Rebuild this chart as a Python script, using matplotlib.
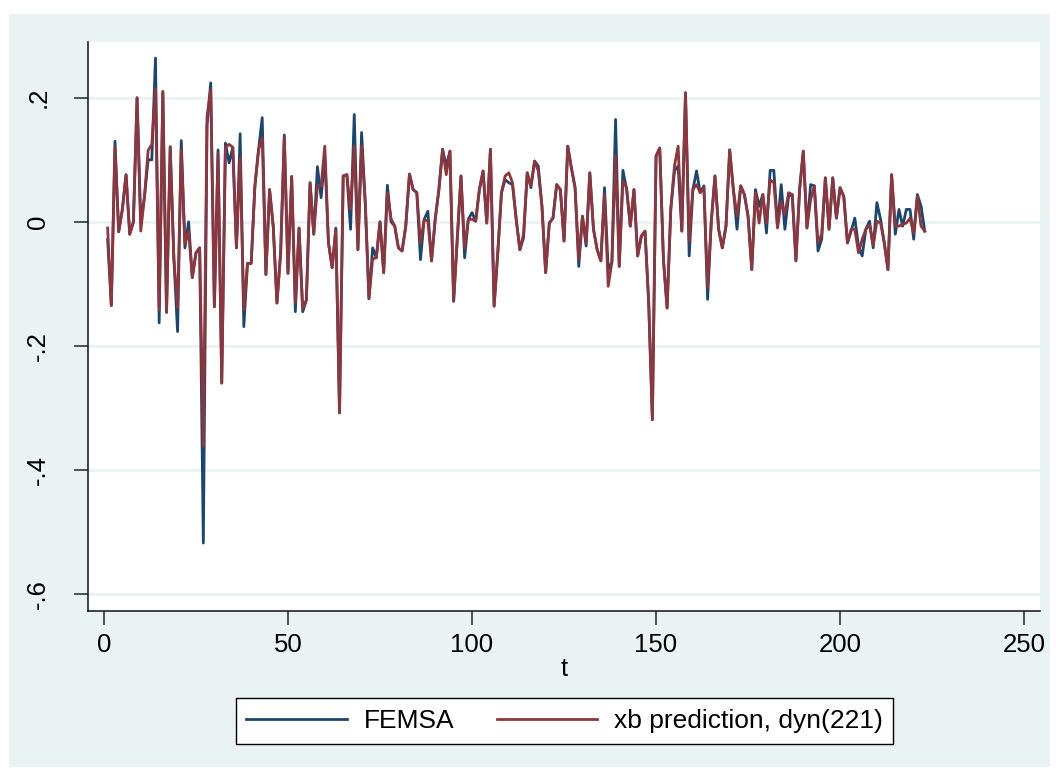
import matplotlib
matplotlib.use("Agg")
import matplotlib.pyplot as plt
from matplotlib.patches import Rectangle

plt.rcParams["font.family"] = ["Liberation Sans", "DejaVu Sans"]

# FEMSA returns, t = 1..223
femsa = [
    -0.029, -0.135, 0.13, -0.016, 0.02, 0.076, -0.02, 0.0, 0.2, 0.0,
    0.04, 0.1, 0.1, 0.264, -0.163, 0.21, -0.146, 0.121, -0.06, -0.177,
    0.131, -0.042, 0.0, -0.09, -0.05, -0.042, -0.518, 0.155, 0.224, -0.137,
    0.116, -0.26, 0.127, 0.095, 0.12, -0.042, 0.142, -0.169, -0.067, -0.067,
    0.057, 0.116, 0.168, -0.085, 0.052, -0.008, -0.131, -0.05, 0.14, -0.083,
    0.073, -0.145, -0.01, -0.145, -0.126, 0.063, -0.02, 0.089, 0.039, 0.106,
    -0.034, -0.074, -0.01, -0.308, 0.074, 0.076, -0.012, 0.173, -0.045, 0.144,
    0.03, -0.124, -0.042, -0.058, 0.0, -0.082, 0.059, 0.0, -0.007, -0.042,
    -0.047, -0.007, 0.077, 0.052, 0.047, -0.061, 0.004, 0.017, -0.063, 0.004,
    0.052, 0.117, 0.09, 0.114, -0.128, -0.028, 0.074, -0.058, 0.004, 0.015,
    0.001, 0.052, 0.082, -0.002, 0.117, -0.136, -0.05, 0.047, 0.068, 0.063,
    0.06, 0.004, -0.045, -0.026, 0.079, 0.055, 0.098, 0.09, 0.025, -0.082,
    -0.002, 0.006, 0.06, 0.052, -0.031, 0.122, 0.087, 0.055, -0.072, 0.009,
    -0.039, 0.079, -0.012, -0.045, -0.063, 0.055, -0.077, -0.065, 0.165, -0.072,
    0.083, 0.052, -0.007, 0.052, -0.055, -0.023, -0.015, -0.13, -0.319, 0.106,
    0.119, -0.06, -0.139, 0.02, 0.082, 0.09, -0.015, 0.208, -0.055, 0.052,
    0.082, 0.047, 0.058, -0.125, 0.0, 0.074, -0.012, -0.042, -0.007, 0.116,
    0.052, -0.012, 0.058, 0.044, 0.009, -0.077, 0.052, 0.025, 0.044, -0.018,
    0.083, 0.083, -0.007, 0.06, -0.012, 0.041, 0.044, -0.063, 0.052, 0.114,
    -0.01, 0.06, 0.058, -0.047, -0.028, 0.071, -0.012, 0.071, 0.006, 0.055,
    0.041, -0.034, -0.015, 0.006, -0.039, -0.055, -0.012, 0.001, -0.042, 0.031,
    0.004, -0.034, -0.077, 0.076, -0.02, 0.02, -0.007, 0.02, 0.02, -0.028,
    0.044, 0.025, -0.015,
]

# xb prediction, dyn(221)
xb_pred = [
    -0.01, -0.135, 0.12, -0.016, 0.02, 0.076, -0.02, 0.0, 0.2, -0.015,
    0.04, 0.115, 0.125, 0.215, -0.142, 0.21, -0.146, 0.121, -0.06, -0.139,
    0.116, -0.035, -0.015, -0.09, -0.05, -0.042, -0.362, 0.17, 0.213, -0.137,
    0.11, -0.26, 0.12, 0.125, 0.12, -0.042, 0.103, -0.142, -0.067, -0.067,
    0.057, 0.116, 0.136, -0.085, 0.052, -0.008, -0.131, -0.05, 0.136, -0.083,
    0.073, -0.13, -0.01, -0.14, -0.126, 0.063, -0.02, 0.058, 0.058, 0.122,
    -0.034, -0.074, -0.012, -0.308, 0.074, 0.076, 0.02, 0.122, -0.045, 0.122,
    0.03, -0.124, -0.06, -0.058, 0.0, -0.082, 0.047, 0.005, -0.007, -0.042,
    -0.047, -0.007, 0.077, 0.052, 0.047, -0.034, 0.004, 0.001, -0.063, 0.004,
    0.052, 0.117, 0.076, 0.114, -0.128, -0.028, 0.074, -0.042, 0.004, 0.004,
    0.001, 0.052, 0.082, -0.002, 0.117, -0.136, -0.05, 0.047, 0.074, 0.079,
    0.063, 0.004, -0.045, -0.02, 0.079, 0.058, 0.098, 0.082, 0.025, -0.082,
    -0.002, 0.006, 0.06, 0.052, -0.031, 0.122, 0.087, 0.055, -0.061, 0.009,
    -0.034, 0.079, -0.012, -0.045, -0.063, 0.044, -0.104, -0.065, 0.106, -0.072,
    0.066, 0.055, -0.007, 0.052, -0.055, -0.023, -0.015, -0.13, -0.319, 0.106,
    0.119, -0.06, -0.139, 0.02, 0.09, 0.122, -0.015, 0.208, -0.031, 0.052,
    0.06, 0.047, 0.055, -0.106, 0.0, 0.074, -0.012, -0.042, -0.007, 0.116,
    0.052, 0.009, 0.058, 0.044, 0.009, -0.077, 0.047, -0.002, 0.044, -0.002,
    0.068, 0.063, -0.01, 0.033, 0.012, 0.047, 0.044, -0.063, 0.052, 0.114,
    -0.01, 0.036, 0.058, -0.034, -0.02, 0.071, -0.012, 0.071, 0.006, 0.055,
    0.041, -0.034, -0.012, -0.012, -0.05, -0.028, -0.012, -0.005, -0.038, 0.001,
    -0.002, -0.034, -0.077, 0.076, -0.007, -0.007, -0.004, -0.002, 0.006, -0.018,
    0.041, -0.007, -0.015,
]

t = list(range(1, len(femsa) + 1))

xticks = [0, 50, 100, 150, 200, 250]
yticks = [-0.6, -0.4, -0.2, 0.0, 0.2]
ytick_labels = ["-.6", "-.4", "-.2", "0", ".2"]

navy = "#1a476f"
maroon = "#90353b"
bg = "#eaf2f3"

fig = plt.figure(figsize=(10.56, 7.73), dpi=100, facecolor="white")
# stata-like graph region behind everything
fig.patches.append(Rectangle((9 / 1056, 6 / 773), 1041 / 1056, 753 / 773,
                             transform=fig.transFigure, facecolor=bg,
                             edgecolor="none", zorder=-10))

ax = fig.add_axes([0.0830, 0.2100, 0.9018, 0.7357])
ax.set_facecolor("white")

ax.plot(t, femsa, color=navy, lw=2.0, label="FEMSA")
ax.plot(t, xb_pred, color=maroon, lw=2.0, label="xb prediction, dyn(221)")

ax.set_xlim(-4.43, 254.3)
ax.set_ylim(-0.627, 0.290)
ax.set_xticks(xticks)
ax.set_yticks(yticks)
ax.set_yticklabels(ytick_labels, rotation=90, va="center")
ax.tick_params(axis="both", labelsize=18.5, length=10, width=1.2, color="#333333")
ax.tick_params(axis="y", pad=17)
ax.tick_params(axis="x", pad=6)
ax.grid(axis="y", color=bg, lw=2)
ax.set_axisbelow(True)

for s in ["top", "right"]:
    ax.spines[s].set_visible(False)
for s in ["left", "bottom"]:
    ax.spines[s].set_color("#222222")
    ax.spines[s].set_linewidth(1.2)

ax.set_xlabel("t", fontsize=18.5, labelpad=0)

leg = fig.legend(loc="center", bbox_to_anchor=(0.5346, 0.0673), ncol=2,
                 fontsize=19, frameon=True, fancybox=False, handlelength=3.8,
                 columnspacing=1.6, handletextpad=0.65, borderpad=0.4,
                 borderaxespad=0)
leg.get_frame().set_edgecolor("black")
leg.get_frame().set_linewidth(1.0)
leg.get_frame().set_facecolor("white")
leg.get_frame().set_alpha(1)

fig.savefig("out.png", dpi=100, facecolor="white")
